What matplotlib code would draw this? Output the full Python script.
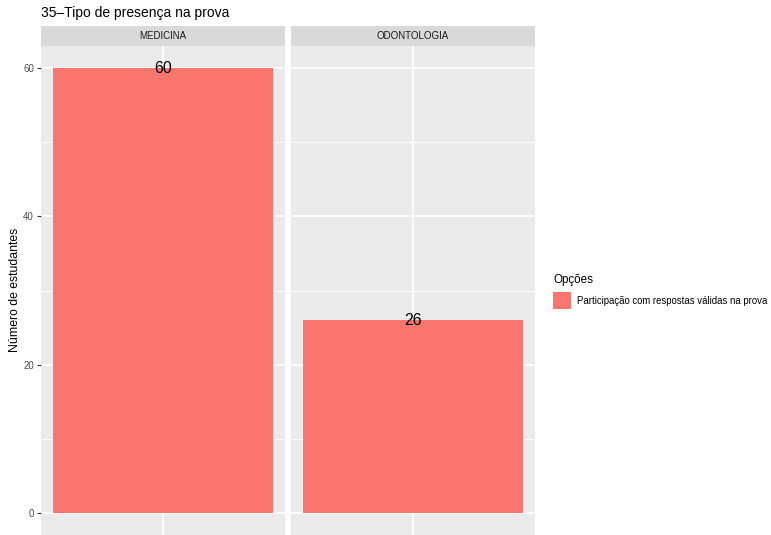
import matplotlib
matplotlib.use("Agg")
import matplotlib.pyplot as plt
from matplotlib.patches import Rectangle

categories = ["MEDICINA", "ODONTOLOGIA"]
values = [60, 26]
option_label = "Participação com respostas válidas na prova"
legend_title = "Opções"
title = "35–Tipo de presença na prova"
ylabel = "Número de estudantes"
yticks = [0, 20, 40, 60]
yminor = [10, 30, 50]

plt.rcParams['font.family'] = ['Liberation Sans', 'DejaVu Sans']

W, H = 771, 535
fig = plt.figure(figsize=(W / 100, H / 100), dpi=100)

bar_color = "#F8766D"
panel_bg = "#EBEBEB"
strip_bg = "#D9D9D9"

panels = [(41, 285), (291, 535)]
ptop, pbot = 46, 535
stop = 26

for i, (cat, val) in enumerate(zip(categories, values)):
    x0, x1 = panels[i]
    ax = fig.add_axes([x0 / W, 1 - pbot / H, (x1 - x0) / W, (pbot - ptop) / H])
    ax.set_facecolor(panel_bg)
    ax.set_xlim(0.5, 1.5)
    ax.set_ylim(-3, 63)
    for y in yminor:
        ax.axhline(y, color="white", lw=0.6, zorder=0)
    for y in yticks:
        ax.axhline(y, color="white", lw=1.2, zorder=0)
    ax.axvline(1, color="white", lw=1.2, zorder=0)
    ax.bar([1], [val], width=0.9, color=bar_color, zorder=2)
    ax.text(1, val, str(val), ha="center", va="center", fontsize=11.5, color="black", zorder=3)
    for s in ax.spines.values():
        s.set_visible(False)
    ax.set_xticks([])
    if i == 0:
        ax.set_yticks(yticks)
        ax.set_yticklabels([str(v) for v in yticks], fontsize=7, color="#4D4D4D")
        ax.tick_params(axis="y", length=3, width=0.8, color="#333333", pad=2)
    else:
        ax.set_yticks([])
    # strip
    sax = fig.add_axes([x0 / W, 1 - ptop / H, (x1 - x0) / W, (ptop - stop) / H])
    sax.set_facecolor(strip_bg)
    sax.set_xticks([]); sax.set_yticks([])
    for s in sax.spines.values():
        s.set_visible(False)
    sax.text(0.5, 0.5, cat, ha="center", va="center", fontsize=7, color="#1A1A1A",
             transform=sax.transAxes)

fig.text(15 / W, 1 - 290 / H, ylabel, rotation=90, ha="center", va="center",
         fontsize=8.8, color="black")

fig.text(41 / W, 1 - 13 / H, title, ha="left", va="center", fontsize=10, color="black")

# legend
fig.text(553 / W, 1 - 280 / H, legend_title, ha="left", va="center", fontsize=8.4, color="black")
fig.patches.append(Rectangle((553 / W, 1 - 309 / H), 18 / W, 17 / H, transform=fig.transFigure,
                             facecolor=bar_color, edgecolor="none", figure=fig))
fig.text(577 / W, 1 - 300.5 / H, option_label, ha="left", va="center", fontsize=6.9, color="black")

fig.savefig("out.png", dpi=100)
